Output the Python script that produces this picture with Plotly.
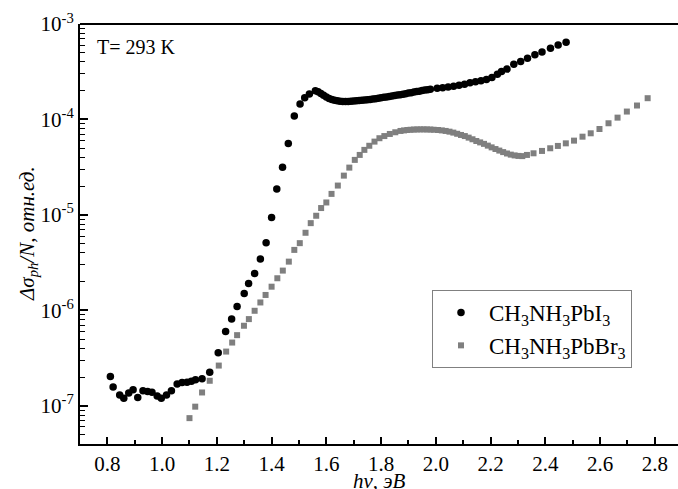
import plotly.graph_objects as go

# CH3NH3PbI3 (circles)
e_i = [0.811, 0.821, 0.845, 0.860, 0.878, 0.894, 0.911, 0.930, 0.947, 0.963,
       0.982, 0.997, 1.016, 1.034, 1.055, 1.073, 1.091, 1.107, 1.122, 1.146,
       1.174, 1.205, 1.232, 1.254, 1.274, 1.300, 1.316, 1.338, 1.359, 1.380,
       1.400, 1.419, 1.440, 1.461, 1.483, 1.504, 1.521, 1.538, 1.560, 1.570,
       1.580, 1.590, 1.600, 1.610, 1.620, 1.630, 1.640, 1.650, 1.660, 1.670,
       1.680, 1.690, 1.700, 1.710, 1.720, 1.730, 1.740, 1.750, 1.760, 1.770,
       1.780, 1.790, 1.800, 1.810, 1.820, 1.830, 1.840, 1.850, 1.860, 1.870,
       1.880, 1.890, 1.900, 1.910, 1.920, 1.930, 1.940, 1.950, 1.960, 1.970,
       1.980, 2.005, 2.025, 2.045, 2.065, 2.085, 2.105, 2.125, 2.145, 2.165,
       2.185, 2.205, 2.225, 2.240, 2.260, 2.285, 2.310, 2.335, 2.362, 2.388,
       2.419, 2.447, 2.476]
s_i = [2.03e-7, 1.57e-7, 1.30e-7, 1.20e-7, 1.36e-7, 1.47e-7, 1.22e-7, 1.44e-7, 1.41e-7, 1.39e-7,
       1.27e-7, 1.20e-7, 1.30e-7, 1.44e-7, 1.69e-7, 1.75e-7, 1.77e-7, 1.81e-7, 1.87e-7, 1.92e-7,
       2.25e-7, 3.6e-7, 6.0e-7, 8.1e-7, 1.1e-6, 1.5e-6, 1.91e-6, 2.43e-6, 3.46e-6, 5.1e-6,
       9.4e-6, 1.87e-5, 3.15e-5, 5.6e-5, 1.09e-4, 1.45e-4, 1.69e-4, 1.85e-4, 2.0e-4, 1.95e-4,
       1.87e-4, 1.79e-4, 1.72e-4, 1.66e-4, 1.62e-4, 1.59e-4, 1.57e-4, 1.55e-4, 1.54e-4, 1.54e-4,
       1.54e-4, 1.55e-4, 1.56e-4, 1.57e-4, 1.58e-4, 1.59e-4, 1.60e-4, 1.61e-4, 1.62e-4, 1.64e-4,
       1.65e-4, 1.67e-4, 1.69e-4, 1.71e-4, 1.72e-4, 1.74e-4, 1.76e-4, 1.78e-4, 1.80e-4, 1.82e-4,
       1.84e-4, 1.86e-4, 1.89e-4, 1.91e-4, 1.94e-4, 1.96e-4, 1.98e-4, 2.01e-4, 2.03e-4, 2.05e-4,
       2.07e-4, 2.12e-4, 2.15e-4, 2.19e-4, 2.23e-4, 2.28e-4, 2.34e-4, 2.42e-4, 2.48e-4, 2.55e-4,
       2.62e-4, 2.75e-4, 2.98e-4, 3.18e-4, 3.37e-4, 3.78e-4, 4.05e-4, 4.37e-4, 4.77e-4, 5.10e-4,
       5.56e-4, 6.02e-4, 6.45e-4]

# CH3NH3PbBr3 (squares)
e_br = [1.100, 1.121, 1.146, 1.174, 1.207, 1.234, 1.256, 1.274, 1.299, 1.317,
        1.338, 1.359, 1.378, 1.400, 1.421, 1.441, 1.463, 1.483, 1.503, 1.524,
        1.543, 1.563, 1.581, 1.600, 1.619, 1.642, 1.664, 1.684, 1.704, 1.722,
        1.739, 1.757, 1.776, 1.794, 1.812, 1.832, 1.852, 1.871, 1.884, 1.896,
        1.908, 1.920, 1.932, 1.944, 1.956, 1.968, 1.980, 1.992, 2.008, 2.022,
        2.036, 2.050, 2.064, 2.078, 2.092, 2.106, 2.120, 2.134, 2.148, 2.162,
        2.176, 2.190, 2.204, 2.218, 2.232, 2.246, 2.260, 2.274, 2.288, 2.302,
        2.316, 2.333, 2.357, 2.388, 2.418, 2.446, 2.475, 2.505, 2.536, 2.566,
        2.598, 2.631, 2.664, 2.698, 2.735, 2.774]
s_br = [7.43e-8, 9.8e-8, 1.38e-7, 1.83e-7, 2.64e-7, 3.7e-7, 4.6e-7, 5.5e-7, 6.9e-7, 8.1e-7,
        9.9e-7, 1.21e-6, 1.45e-6, 1.77e-6, 2.17e-6, 2.61e-6, 3.24e-6, 4.3e-6, 5.06e-6, 6.5e-6,
        8.2e-6, 9.8e-6, 1.18e-5, 1.35e-5, 1.66e-5, 2.03e-5, 2.58e-5, 3.13e-5, 3.77e-5, 4.25e-5,
        4.8e-5, 5.3e-5, 5.86e-5, 6.36e-5, 6.7e-5, 7.05e-5, 7.34e-5, 7.58e-5, 7.68e-5, 7.75e-5,
        7.80e-5, 7.84e-5, 7.86e-5, 7.87e-5, 7.87e-5, 7.86e-5, 7.84e-5, 7.80e-5, 7.75e-5, 7.68e-5,
        7.58e-5, 7.45e-5, 7.28e-5, 7.08e-5, 6.88e-5, 6.70e-5, 6.45e-5, 6.2e-5, 5.95e-5, 5.75e-5,
        5.55e-5, 5.32e-5, 5.1e-5, 4.9e-5, 4.72e-5, 4.55e-5, 4.40e-5, 4.28e-5, 4.2e-5, 4.15e-5,
        4.13e-5, 4.25e-5, 4.42e-5, 4.68e-5, 4.99e-5, 5.28e-5, 5.62e-5, 6.0e-5, 6.6e-5, 7.16e-5,
        7.94e-5, 9.12e-5, 1.045e-4, 1.21e-4, 1.40e-4, 1.67e-4]

x_ticks = [0.8, 1.0, 1.2, 1.4, 1.6, 1.8, 2.0, 2.2, 2.4, 2.6, 2.8]
x_minor = [0.7, 0.9, 1.1, 1.3, 1.5, 1.7, 1.9, 2.1, 2.3, 2.5, 2.7]
y_ticks = [1e-7, 1e-6, 1e-5, 1e-4, 1e-3]
y_ticktext = ["10<sup>-7</sup>", "10<sup>-6</sup>", "10<sup>-5</sup>", "10<sup>-4</sup>", "10<sup>-3</sup>"]
y_minor = [m * 10.0 ** p for p in range(-8, -3) for m in range(2, 10) if 4e-8 < m * 10.0 ** p < 1e-3]

FONT = "Liberation Serif, Times New Roman, serif"

fig = go.Figure()
fig.add_trace(go.Scatter(
    x=e_i, y=s_i, mode="markers", name="CH<sub>3</sub>NH<sub>3</sub>PbI<sub>3</sub>",
    marker=dict(symbol="circle", size=7.5, color="black", line=dict(width=0))))
fig.add_trace(go.Scatter(
    x=e_br, y=s_br, mode="markers", name="CH<sub>3</sub>NH<sub>3</sub>PbBr<sub>3</sub>",
    marker=dict(symbol="square", size=6, color="#7f7f7f", line=dict(width=0))))

fig.update_layout(
    width=678, height=489,
    margin=dict(l=80, r=0, t=24, b=45),
    paper_bgcolor="white", plot_bgcolor="white",
    font=dict(family=FONT, size=21, color="black"),
    showlegend=True,
    legend=dict(x=(432 - 80) / 598, y=(444 - 290) / 420, xanchor="left", yanchor="top",
                bordercolor="#808080", borderwidth=1, bgcolor="white",
                font=dict(family=FONT, size=23, color="black"),
                itemwidth=46, tracegroupgap=0),
    xaxis=dict(range=[0.7, 0.7 + 598 / 273.7], showgrid=False, zeroline=False,
               showline=True, linecolor="black", linewidth=2, mirror=False,
               tickmode="array", tickvals=x_ticks, ticktext=[f"{v:.1f}" for v in x_ticks],
               ticks="inside", ticklen=7, tickwidth=1.5, tickcolor="black",
               minor=dict(tickmode="array", tickvals=x_minor, ticks="inside",
                          ticklen=4, tickwidth=1.5, tickcolor="black"),
               tickfont=dict(family=FONT, size=21), automargin=False),
    yaxis=dict(type="log", range=[-7.4, -3], showgrid=False, zeroline=False,
               showline=True, linecolor="black", linewidth=2, mirror=False,
               tickmode="array", tickvals=y_ticks, ticktext=y_ticktext,
               ticks="inside", ticklen=8, tickwidth=1.5, tickcolor="black",
               minor=dict(tickmode="array", tickvals=y_minor, ticks="inside",
                          ticklen=5, tickwidth=1.2, tickcolor="black"),
               tickfont=dict(family=FONT, size=21), automargin=False),
    shapes=[dict(type="line", xref="paper", yref="paper", x0=0, x1=1, y0=1, y1=1,
                 line=dict(color="black", width=2))],
    annotations=[
        dict(text="T= 293 K", xref="paper", yref="paper", x=(95 - 80) / 598, y=(444 - 47) / 420,
             xanchor="left", yanchor="middle", showarrow=False,
             font=dict(family=FONT, size=20)),
        dict(text="<i>Δσ<sub>ph</sub>/N, отн.ед.</i>", xref="paper", yref="paper",
             x=(28 - 80) / 598, y=0.5, xanchor="center", yanchor="middle",
             textangle=-90, showarrow=False, font=dict(family=FONT, size=21)),
        dict(text="<i>hν, эВ</i>", xref="paper", yref="paper",
             x=0.5, y=(444 - 481) / 420, xanchor="center", yanchor="middle",
             showarrow=False, font=dict(family=FONT, size=21)),
    ],
)

fig.write_html("out.html")
